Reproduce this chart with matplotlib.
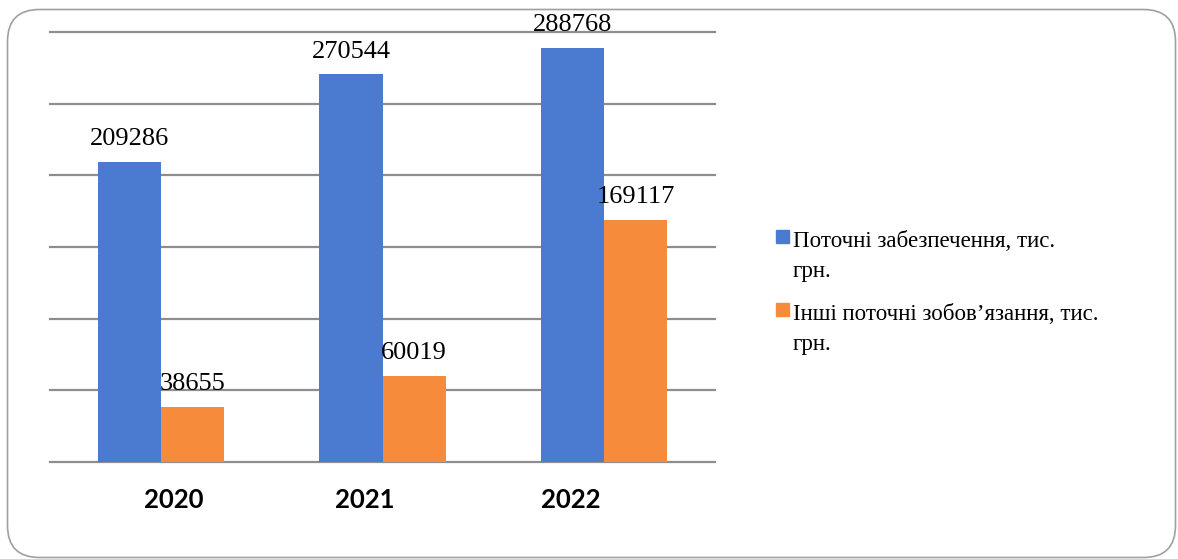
import numpy as np
import matplotlib.pyplot as plt
from matplotlib.patches import FancyBboxPatch, Rectangle
from matplotlib.transforms import IdentityTransform

years = ['2020', '2021', '2022']
zabezpechennia = [209286, 270544, 288768]
zoboviazannia = [38655, 60019, 169117]
series_names = ['Поточні забезпечення, тис.\nгрн.',
                'Інші поточні зобов’язання, тис.\nгрн.']
colors = ['#4a7bd0', '#f68b3b']

W, H = 1178, 559
fig = plt.figure(figsize=(W / 100, H / 100), dpi=100)
ax = fig.add_axes([50 / W, 1 - 462 / H, 665 / W, 430 / H])

x = np.arange(len(years))
w = 0.285
b1 = ax.bar(x - w / 2, zabezpechennia, w, color=colors[0], zorder=3)
b2 = ax.bar(x + w / 2, zoboviazannia, w, color=colors[1], zorder=3)

for bars, vals in [(b1, zabezpechennia), (b2, zoboviazannia)]:
    for r, v in zip(bars, vals):
        ax.annotate(str(v), (r.get_x() + r.get_width() / 2, v),
                    xytext=(0, 12), textcoords='offset points',
                    ha='center', va='baseline', fontsize=19,
                    family='Liberation Serif', annotation_clip=False, zorder=4)

ax.set_xlim(-0.5, 2.5)
ax.set_ylim(0, 300000)
ax.set_yticks(np.arange(0, 300001, 50000))
ax.set_yticklabels([])
# year labels in the original are not quite centred under the groups
ax.set_xticks(x + np.array([0.06, -0.08, -0.15]))
ax.set_xticklabels(years, fontsize=18.5, fontweight='bold', family='Lato')
ax.tick_params(length=0)
ax.tick_params(axis='x', pad=19)
ax.grid(axis='y', color='#8e8e8e', lw=1.6, zorder=0)
for gl in ax.get_ygridlines():
    gl.set_clip_on(False)
for s in ax.spines.values():
    s.set_visible(False)

# legend drawn by hand: square on first line, wrapped lines left-aligned
leg_y = [247, 320]
for name, c, yb in zip(series_names, colors, leg_y):
    fig.patches.append(Rectangle((776, H - yb + 4), 13, 13, color=c,
                                 transform=IdentityTransform()))
    for i, line in enumerate(name.split('\n')):
        fig.text(793 / W, 1 - (yb + 30 * i) / H, line, fontsize=16.5,
                 family='Liberation Serif', va='baseline', ha='left')

border = FancyBboxPatch((7.5, 1.5), 1168, 548, boxstyle='round,pad=0,rounding_size=32',
                        fill=False, ec='#a0a0a0', lw=1.2, transform=IdentityTransform())
fig.patches.append(border)

plt.savefig('out.png', dpi=100)
